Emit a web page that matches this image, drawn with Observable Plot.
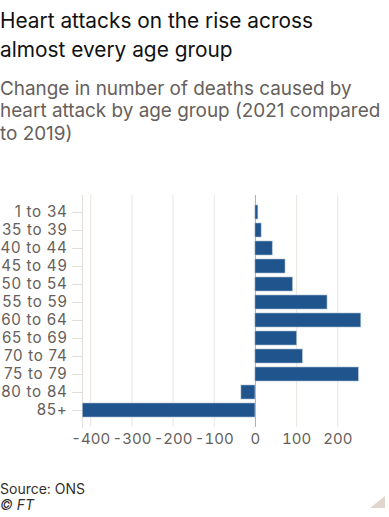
<!DOCTYPE html>
<html><head><meta charset="utf-8">
<script src="https://cdn.jsdelivr.net/npm/d3@7"></script>
<script src="https://cdn.jsdelivr.net/npm/@observablehq/plot@0.6"></script>
<style>
body{margin:0;background:#fff;font-family:Inter,sans-serif;width:389px;height:517px;position:relative;overflow:hidden}
#title{position:absolute;left:0;top:6.2px;font-size:20.85px;line-height:29px;color:#111;white-space:nowrap}
#sub{position:absolute;left:0;top:77.6px;font-size:18.9px;line-height:22.5px;color:#66605c;white-space:nowrap}
#chart{position:absolute;left:0;top:160px}
#chart g[aria-label="y-axis tick label"] text{letter-spacing:0.7px}
#src{position:absolute;left:0;top:480.6px;font-size:14px;line-height:16.7px;color:#33302e}
#corner{position:absolute;left:370px;top:496px}
</style></head><body>
<div id="title">Heart attacks on the rise across<br>almost every age group</div>
<div id="sub">Change in number of deaths caused by<br>heart attack by age group (2021 compared<br>to 2019)</div>
<div id="chart"></div>
<div id="src">Source: ONS<br><i>© FT</i></div>
<svg id="corner" width="19" height="13"><polygon points="15,0 15,12 0,12" fill="#e0d6cc"/></svg>
<script>
const ageGroups = ["1 to 34","35 to 39","40 to 44","45 to 49","50 to 54","55 to 59","60 to 64","65 to 69","70 to 74","75 to 79","80 to 84","85+"];
const changes = [7, 15, 42, 73, 91, 175, 257, 101, 115, 251, -34, -419];
const xTicks = [-400,-300,-200,-100,0,100,200];
const data = ageGroups.map((g,i)=>({group:g, value:changes[i]}));
const chart = Plot.plot({
  width:389, height:300,
  marginTop:35, marginBottom:33, marginLeft:82, marginRight:27,
  style:{fontFamily:"Inter, sans-serif", background:"transparent"},
  x:{domain:[-420,260], ticks:xTicks, tickFormat:d=>String(d)},
  y:{domain:ageGroups, paddingInner:0.2, paddingOuter:0.475},
  marks:[
    Plot.gridX(xTicks,{stroke:"#e9e4df", strokeOpacity:1}),
    Plot.frame({anchor:"left", stroke:"#e3ded9"}),
    Plot.ruleX([0],{stroke:"#b5aeaa"}),
    Plot.barX(data,{x:"value", y:"group", fill:"#1f548c", stroke:"#a8bcd2", strokeWidth:0.6}),
    Plot.axisY({tickSize:10, tickPadding:5, stroke:"#e3ded9", fill:"#66605c", fontSize:15.2, label:null}),
    Plot.axisX({ticks:xTicks, tickFormat:d=>String(d), tickSize:0, tickPadding:6, fill:"#66605c", fontSize:15, label:null})
  ]
});
document.getElementById("chart").appendChild(chart);
</script>
</body></html>
